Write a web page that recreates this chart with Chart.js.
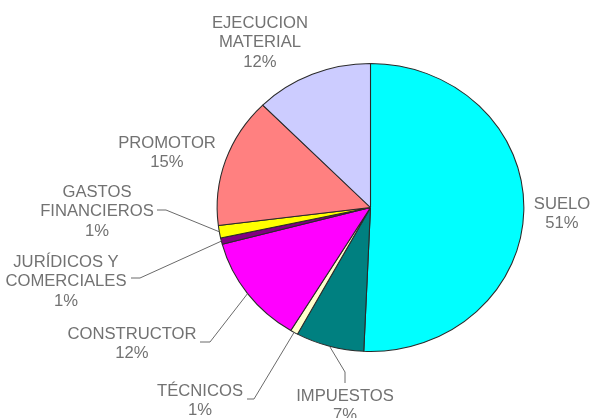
<!DOCTYPE html>
<html>
<head>
<meta charset="utf-8">
<script src="https://cdn.jsdelivr.net/npm/chart.js@4.4.0/dist/chart.umd.min.js"></script>
<style>
  body { margin: 0; background: #fff; }
</style>
</head>
<body>
<canvas id="pieChart" width="592" height="418"></canvas>
<script>
// cost breakdown (% of total)
const categories = [
  ['SUELO'],
  ['IMPUESTOS'],
  ['TÉCNICOS'],
  ['CONSTRUCTOR'],
  ['JURÍDICOS Y', 'COMERCIALES'],
  ['GASTOS', 'FINANCIEROS'],
  ['PROMOTOR'],
  ['EJECUCION', 'MATERIAL']
];
const shares = [50.7, 7.2, 0.8, 12.2, 0.7, 1.4, 14.6, 12.4];
const sliceColors = ['#00FFFF', '#008080', '#FFFFCC', '#FF00FF', '#800080', '#FFFF00', '#FF8080', '#CCCCFF'];

// pie (and its text) is drawn a bit wider than tall
const STRETCH = 1.065;
const TEXT_STRETCH = 1.04;

// where each label block sits, and the first points of its leader line
const labelLayout = [
  { x: 562, y: 203, leader: null },
  { x: 345, y: 395, leader: [[345, 383], [345, 372]] },
  { x: 200, y: 390, leader: [[247, 399], [254, 399]] },
  { x: 132, y: 333, leader: [[200, 342], [210, 342]] },
  { x: 66, y: 261, leader: [[131, 278], [140, 278]] },
  { x: 97, y: 191, leader: [[157, 210], [166, 210]] },
  { x: 167, y: 142, leader: null },
  { x: 260, y: 22, leader: null }
];

const ovalPie = {
  id: 'ovalPie',
  beforeDatasetsDraw(chart) {
    const arc = chart.getDatasetMeta(0).data[0];
    const ctx = chart.ctx;
    ctx.save();
    ctx.translate(arc.x, 0);
    ctx.scale(STRETCH, 1);
    ctx.translate(-arc.x, 0);
  },
  afterDatasetsDraw(chart) {
    chart.ctx.restore();
  }
};

const pieLabels = {
  id: 'pieLabels',
  afterDraw(chart) {
    const ctx = chart.ctx;
    const arcs = chart.getDatasetMeta(0).data;
    const values = chart.data.datasets[0].data;
    ctx.save();
    ctx.font = '16px "Liberation Sans", Arial, sans-serif';
    ctx.fillStyle = '#727272';
    ctx.textAlign = 'center';
    ctx.textBaseline = 'alphabetic';
    ctx.strokeStyle = '#6a6a6a';
    ctx.lineWidth = 1;

    arcs.forEach((arc, i) => {
      const lay = labelLayout[i];
      const lines = chart.data.labels[i].concat([Math.round(values[i]) + '%']);
      ctx.save();
      ctx.translate(lay.x, 0);
      ctx.scale(TEXT_STRETCH, 1);
      lines.forEach((txt, j) => {
        ctx.fillText(txt, 0, lay.y + 5.7 + j * 19.5);
      });
      ctx.restore();

      if (lay.leader) {
        // end the leader on the slice edge at its middle angle
        const mid = (arc.startAngle + arc.endAngle) / 2;
        const ex = arc.x + STRETCH * arc.outerRadius * Math.cos(mid);
        const ey = arc.y + arc.outerRadius * Math.sin(mid);
        ctx.beginPath();
        ctx.moveTo(lay.leader[0][0], lay.leader[0][1]);
        for (let k = 1; k < lay.leader.length; k++) {
          ctx.lineTo(lay.leader[k][0], lay.leader[k][1]);
        }
        ctx.lineTo(ex, ey);
        ctx.stroke();
      }
    });
    ctx.restore();
  }
};

const ctx = document.getElementById('pieChart').getContext('2d');
new Chart(ctx, {
  type: 'pie',
  data: {
    labels: categories,
    datasets: [{
      data: shares,
      backgroundColor: sliceColors,
      borderColor: '#2a2a2a',
      borderWidth: 1,
      hoverOffset: 0
    }]
  },
  options: {
    responsive: false,
    animation: false,
    events: [],
    layout: {
      padding: { top: 63, bottom: 66, left: 226, right: 77 }
    },
    plugins: {
      legend: { display: false },
      tooltip: { enabled: false }
    }
  },
  plugins: [ovalPie, pieLabels]
});
</script>
</body>
</html>
